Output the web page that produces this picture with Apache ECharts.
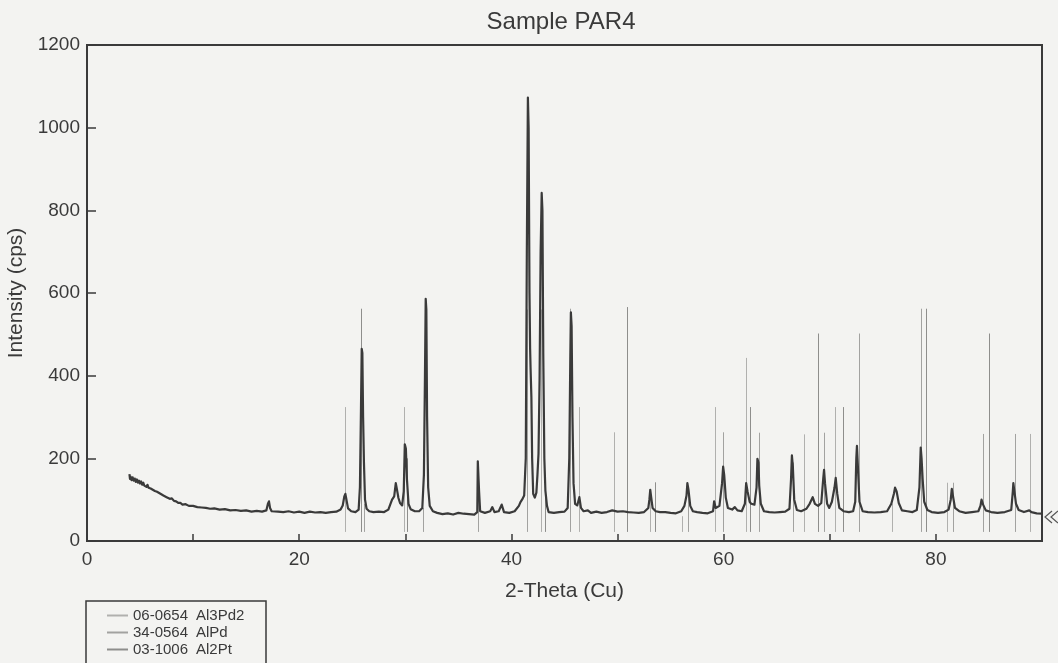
<!DOCTYPE html>
<html>
<head>
<meta charset="utf-8">
<title>Sample PAR4</title>
<script src="https://cdn.jsdelivr.net/npm/echarts@6/dist/echarts.min.js"></script>
<style>
  html, body { margin: 0; padding: 0; background: #f3f3f1; }
  #chart { width: 1058px; height: 663px; }
</style>
</head>
<body>
<div id="chart"></div>
<script>
// Measured scan: [2-theta (deg), intensity (cps)]
const scanPoints = [
  [4.0,162],[4.05,150],[4.1,156],[4.2,147],[4.3,154],[4.4,146],[4.5,151],[4.6,143],[4.7,149],[4.8,141],
  [4.9,146],[5.0,139],[5.1,144],[5.2,136],[5.3,141],[5.4,134],[5.5,138],[5.6,131],[5.7,136],[5.8,129],
  [5.9,133],[6.0,127],[6.1,131],[6.2,124],[6.3,128],[6.4,121],[6.5,125],[6.6,119],[6.7,122],[6.8,116],
  [6.9,119],[7.0,113],[7.1,116],[7.2,110],[7.35,112],[7.5,106],[7.65,108],[7.8,102],[8.0,103],[8.2,97],
  [8.4,96],[8.6,92],[8.8,92],[9.0,88],[9.3,89],[9.6,85],[10.0,85],[10.4,82],[10.8,81],[11.2,80],
  [11.6,78],[12.0,79],[12.5,76],[13.0,77],[13.5,74],[14.0,75],[14.5,73],[15.0,74],[15.5,71],[16.0,73],
  [16.5,71],[16.9,74],[17.05,90],[17.15,96],[17.25,80],[17.4,72],[18.0,71],[18.5,70],[19.0,72],[19.5,69],
  [20.0,71],[20.5,68],[21.0,71],[21.5,69],[22.0,70],[22.5,68],[23.0,70],[23.5,71],[23.9,76],[24.1,86],
  [24.25,108],[24.35,114],[24.45,100],[24.6,79],[24.9,72],[25.3,70],[25.6,76],[25.72,130],[25.82,320],[25.89,465],
  [25.95,455],[26.02,300],[26.1,190],[26.2,100],[26.35,78],[26.6,72],[27.0,70],[27.5,71],[28.0,70],[28.4,76],
  [28.6,90],[28.75,100],[28.95,108],[29.1,140],[29.2,126],[29.35,104],[29.5,92],[29.7,86],[29.85,120],[29.95,234],
  [30.05,224],[30.15,150],[30.3,90],[30.5,77],[30.9,72],[31.3,72],[31.6,80],[31.75,160],[31.85,400],[31.92,586],
  [31.98,560],[32.05,300],[32.15,130],[32.3,85],[32.6,72],[33.0,68],[33.5,65],[34.0,67],[34.5,64],[35.0,68],
  [35.5,66],[36.0,65],[36.5,64],[36.78,70],[36.83,193],[36.9,190],[36.95,120],[37.05,72],[37.5,68],[38.0,72],
  [38.2,82],[38.4,70],[38.8,72],[39.08,88],[39.3,70],[39.8,68],[40.3,72],[40.7,85],[40.85,94],[41.0,100],
  [41.2,110],[41.35,200],[41.45,700],[41.55,1073],[41.62,1000],[41.7,600],[41.76,465],[41.8,420],[41.88,348],[41.95,200],
  [42.05,114],[42.2,105],[42.35,117],[42.45,160],[42.55,211],[42.65,389],[42.75,700],[42.85,842],[42.92,800],[43.0,450],
  [43.1,200],[43.2,122],[43.35,85],[43.5,70],[44.0,68],[44.5,70],[45.0,71],[45.3,80],[45.45,200],[45.55,450],
  [45.6,553],[45.67,520],[45.75,300],[45.85,140],[46.0,90],[46.2,86],[46.4,106],[46.55,80],[46.8,72],[47.2,74],
  [47.5,68],[48.0,71],[48.5,68],[49.0,70],[49.5,74],[50.0,71],[50.5,72],[51.0,70],[51.5,69],[52.0,68],
  [52.5,70],[52.9,80],[53.0,100],[53.08,124],[53.15,110],[53.3,80],[53.6,72],[54.0,70],[54.5,70],[55.0,68],
  [55.5,67],[56.0,72],[56.3,85],[56.5,110],[56.58,140],[56.68,125],[56.85,85],[57.1,72],[57.5,70],[58.0,68],
  [58.5,67],[59.0,72],[59.1,96],[59.25,80],[59.6,85],[59.85,140],[59.95,180],[60.05,160],[60.2,105],[60.4,80],
  [60.8,76],[61.05,82],[61.3,74],[61.7,72],[62.0,90],[62.12,140],[62.25,120],[62.45,95],[62.6,90],[62.9,88],
  [63.1,130],[63.18,199],[63.28,190],[63.35,134],[63.5,90],[63.8,72],[64.3,70],[64.8,69],[65.3,70],[65.8,71],
  [66.2,78],[66.35,150],[66.43,207],[66.52,180],[66.65,100],[66.9,75],[67.3,72],[67.8,78],[68.1,90],[68.39,106],
  [68.6,90],[68.9,85],[69.2,92],[69.38,150],[69.46,172],[69.55,140],[69.75,90],[69.95,80],[70.2,95],[70.45,130],
  [70.56,153],[70.7,115],[70.9,80],[71.3,72],[71.8,70],[72.2,72],[72.4,95],[72.5,200],[72.56,230],[72.65,180],
  [72.8,95],[73.1,72],[73.6,70],[74.2,69],[74.8,70],[75.4,72],[75.8,90],[76.05,115],[76.15,129],[76.3,120],
  [76.5,92],[76.8,74],[77.3,72],[77.8,70],[78.2,75],[78.45,130],[78.57,226],[78.65,200],[78.75,150],[78.9,95],
  [79.2,75],[79.6,70],[80.2,68],[80.8,70],[81.2,76],[81.4,100],[81.5,126],[81.6,110],[81.8,80],[82.2,72],
  [82.8,68],[83.4,70],[84.0,72],[84.2,85],[84.3,100],[84.45,88],[84.7,74],[85.2,70],[85.8,68],[86.5,70],
  [87.1,75],[87.25,120],[87.3,140],[87.4,120],[87.55,90],[87.8,75],[88.3,70],[88.8,74],[89.0,70],[89.5,67],
  [90.0,66]
];

// Reference line positions: [2-theta (deg), drawn height (cps)]
const al3pd2Lines = [
  [24.35,324],[29.88,324],[42.79,560],[46.34,324],[49.67,263],[53.03,110],[56.08,60],[59.16,324],
  [62.10,443],[67.58,258],[70.53,324],[75.90,90],[81.02,141],[88.91,259]
];
const alpdLines = [
  [26.11,90],[31.70,80],[36.88,170],[41.44,560],[45.52,562],[56.68,120],[59.91,263],[63.32,262],
  [66.51,190],[69.44,262],[72.72,502],[78.57,562],[81.62,141],[84.40,259],[87.47,259]
];
const al2ptLines = [
  [25.80,562],[30.13,200],[43.13,110],[50.93,566],[53.50,142],[62.52,324],[68.85,502],[71.29,324],
  [79.03,562],[85.04,502]
];

const phaseNames = ['06-0654|Al3Pd2', '34-0564|AlPd', '03-1006|Al2Pt'];
const phaseColors = ['#b0b0ae', '#a2a2a0', '#8e8e8c'];
const xTicks = { min: 0, max: 90, step: 10, labelStep: 20 };
const yTicks = { min: 0, max: 1200, step: 200 };
const lineBase = 22;

const ink = '#3a3a3a';
const font = 'Liberation Sans, Arial, sans-serif';
const chart = echarts.init(document.getElementById('chart'), null, { renderer: 'canvas' });

function stickSeries(name, lines, color) {
  return {
    type: 'custom',
    name: name,
    data: lines,
    z: 1,
    silent: true,
    itemStyle: { color: color },
    encode: { x: 0, y: 1 },
    renderItem: function (params, api) {
      const x = api.value(0);
      const p0 = api.coord([x, lineBase]);
      const p1 = api.coord([x, api.value(1)]);
      const px = Math.round(p0[0]) + 0.5;
      return {
        type: 'line',
        shape: { x1: px, y1: p0[1], x2: px, y2: p1[1] },
        style: { stroke: color, lineWidth: 1 }
      };
    }
  };
}

const option = {
  backgroundColor: '#f3f3f1',
  animation: false,
  textStyle: { fontFamily: font, color: ink },
  title: {
    text: 'Sample PAR4',
    left: 556, top: 5, textAlign: 'center',
    textStyle: { fontSize: 24, fontWeight: 'normal', color: ink, fontFamily: font }
  },
  grid: {
    left: 87, right: 16, top: 45, bottom: 122,
    containLabel: false,
    outerBoundsMode: 'none',
    show: true, borderColor: ink, borderWidth: 2, backgroundColor: 'transparent'
  },
  legend: {
    data: phaseNames,
    orient: 'vertical',
    left: 107, top: 608,
    padding: 0,
    itemGap: 2,
    itemWidth: 21, itemHeight: 2,
    icon: 'rect',
    selectedMode: false,
    formatter: function (n) {
      const parts = n.split('|');
      return '{c|' + parts[0] + '}{p|' + parts[1] + '}';
    },
    textStyle: {
      color: ink, fontSize: 15, lineHeight: 15, padding: [0, 0, 0, 0],
      rich: {
        c: { width: 63, fontSize: 15, color: ink },
        p: { fontSize: 15, color: ink }
      }
    }
  },
  xAxis: {
    type: 'value',
    min: xTicks.min, max: xTicks.max, interval: xTicks.step,
    name: '2-Theta (Cu)', nameLocation: 'middle', nameGap: 40,
    nameTextStyle: { fontSize: 21, color: ink },
    axisLine: { show: true, onZero: false, lineStyle: { color: ink, width: 2 } },
    axisTick: { show: true, inside: true, length: 7, lineStyle: { color: ink, width: 1.5 } },
    axisLabel: {
      fontSize: 19, color: ink, margin: 9,
      formatter: function (v) { return v % xTicks.labelStep === 0 && v < xTicks.max ? String(v) : ''; }
    },
    splitLine: { show: false }
  },
  yAxis: {
    type: 'value',
    min: yTicks.min, max: yTicks.max, interval: yTicks.step,
    name: 'Intensity (cps)', nameLocation: 'middle', nameGap: 57,
    nameTextStyle: { fontSize: 21, color: ink },
    axisLine: { show: true, lineStyle: { color: ink, width: 2 } },
    axisTick: { show: true, inside: true, length: 9, lineStyle: { color: ink, width: 1.5 } },
    axisLabel: { fontSize: 19, color: ink, margin: 7, formatter: function (v) { return String(v); } },
    splitLine: { show: false }
  },
  graphic: [
    {
      type: 'rect',
      shape: { x: 86, y: 601, width: 180, height: 80 },
      style: { fill: 'none', stroke: ink, lineWidth: 1.5 },
      silent: true
    },
    {
      type: 'polyline',
      shape: { points: [[1052, 511], [1045, 517], [1052, 523]] },
      style: { fill: 'none', stroke: '#555', lineWidth: 1.2 },
      silent: true
    },
    {
      type: 'polyline',
      shape: { points: [[1058, 511], [1051, 517], [1058, 523]] },
      style: { fill: 'none', stroke: '#555', lineWidth: 1.2 },
      silent: true
    }
  ],
  series: [
    stickSeries(phaseNames[0], al3pd2Lines, phaseColors[0]),
    stickSeries(phaseNames[1], alpdLines, phaseColors[1]),
    stickSeries(phaseNames[2], al2ptLines, phaseColors[2]),
    {
      type: 'line',
      name: 'PAR4',
      data: scanPoints,
      showSymbol: false,
      symbol: 'none',
      z: 3,
      silent: true,
      lineStyle: { color: ink, width: 2.2, join: 'round' }
    }
  ]
};

chart.setOption(option);
</script>
</body>
</html>
